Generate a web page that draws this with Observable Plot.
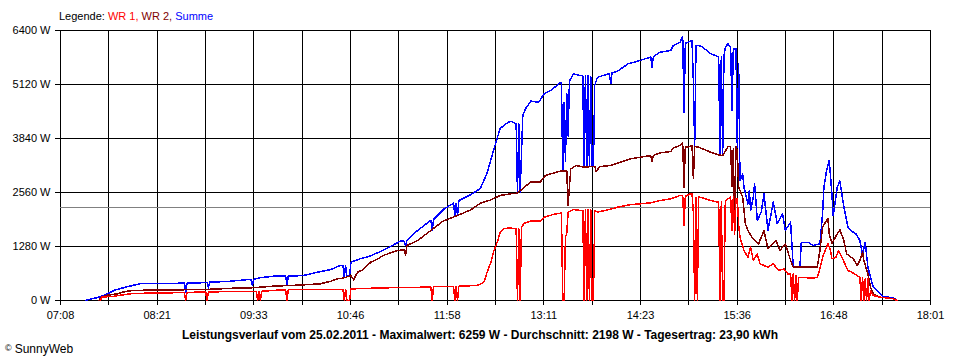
<!DOCTYPE html>
<html>
<head>
<meta charset="utf-8">
<script src="https://cdn.jsdelivr.net/npm/d3@7"></script>
<script src="https://cdn.jsdelivr.net/npm/@observablehq/plot@0.6"></script>
<style>
  html, body { margin: 0; padding: 0; background: #fff; }
  #wrap { position: relative; width: 960px; height: 360px; font-family: "Liberation Sans", Arial, sans-serif; color: #000; overflow: hidden; }
  #legend { position: absolute; left: 59px; top: 10px; font-size: 11px; line-height: 13px; white-space: nowrap; }
  #caption { position: absolute; left: 0; top: 329px; width: 960px; text-align: center; font-size: 12px; font-weight: bold; line-height: 13px; white-space: nowrap; }
  #copy { position: absolute; left: 5px; top: 342px; font-size: 12px; line-height: 13px; white-space: nowrap; }
  #copy .c { font-size: 9px; vertical-align: 2px; margin-right: 3px; }
  #chart { position: absolute; left: 0; top: 0; }
  #chart svg line, #chart svg path { shape-rendering: crispEdges; }
</style>
</head>
<body>
<div id="wrap">
  <div id="chart"></div>
  <div id="legend"></div>
  <div id="caption"></div>
  <div id="copy"></div>
</div>
<script>
// ---- data ----
const xStart = "07:08";
const xEnd = "18:01";
const xTickLabels = ["07:08","08:21","09:33","10:46","11:58","13:11","14:23","15:36","16:48","18:01"];
const yTicks = [0, 1280, 2560, 3840, 5120, 6400];
const yMax = 6400;
const average = 2198; // Durchschnitt
const seriesNames = ["WR 1", "WR 2", "Summe"];
const seriesColors = ["#ff0000", "#800000", "#0000ff"];
const captionText = "Leistungsverlauf vom 25.02.2011 - Maximalwert: 6259 W - Durchschnitt: 2198 W - Tagesertrag: 23,90 kWh";
const copySymbol = "©";
const copyText = "SunnyWeb";

const summe = [
 ["07:27",0],["07:29",20],["07:37",80],["07:44",170],["07:49",250],["07:55",300],["08:00",340],["08:08",400],["08:23",400],["08:38",410],["08:41",410],["08:42",200],["08:43",410],["08:53",420],["08:58",430],["08:59",300],["09:00",435],["09:13",450],["09:30",500],["09:31",500],["09:32",360],["09:33",500],["09:38",540],["09:48",575],["09:57",575],["09:58",355],["09:59",580],["10:10",590],["10:21",670],["10:31",735],["10:38",830],["10:40",830],["10:41",560],["10:42",830],["10:43",560],["10:45",600],["10:46",910],["10:53",990],["11:00",1050],["11:10",1185],["11:23",1405],["11:26",1405],["11:27",1300],["11:28",1420],["11:36",1660],["11:46",1900],["11:47",1660],["11:48",1920],["11:56",2175],["12:03",2305],["12:04",2015],["12:05",2305],["12:06",2015],["12:07",2370],["12:16",2510],["12:23",2650],["12:28",3000],["12:33",3555],["12:38",4080],["12:44",4225],["12:46",4250],["12:50",4190],["12:51",2570],["12:52",4190],["12:53",2570],["12:55",4385],["12:57",4545],["13:01",4725],["13:07",4700],["13:11",4900],["13:16",4980],["13:23",5160],["13:24",5160],["13:25",3080],["13:26",4700],["13:27",3300],["13:28",4900],["13:29",3900],["13:30",5200],["13:33",5370],["13:38",5330],["13:40",5330],["13:41",3175],["13:42",5330],["13:43",3175],["13:44",5330],["13:45",3175],["13:46",5300],["13:47",3175],["13:48",3200],["13:49",5100],["13:51",5290],["13:59",5370],["14:00",5370],["14:01",5140],["14:02",5400],["14:06",5435],["14:14",5610],["14:23",5690],["14:31",5770],["14:32",5530],["14:33",5780],["14:38",5885],["14:46",5925],["14:48",6045],["14:53",6120],["14:55",6259],["14:56",4465],["14:57",6100],["14:59",6120],["15:02",6160],["15:03",5215],["15:04",3635],["15:05",6045],["15:07",6045],["15:10",6005],["15:16",5850],["15:21",5785],["15:22",5785],["15:23",3435],["15:24",5785],["15:25",3435],["15:26",5800],["15:27",6000],["15:29",6085],["15:31",6000],["15:32",4500],["15:33",5965],["15:35",5965],["15:36",3635],["15:37",5610],["15:38",2845],["15:40",3000],["15:41",2685],["15:44",2290],["15:45",2610],["15:46",2135],["15:48",2450],["15:49",2765],["15:51",1900],["15:54",2095],["15:56",2530],["15:59",1660],["16:03",2330],["16:06",1820],["16:10",2055],["16:12",1660],["16:16",1855],["16:18",790],["16:23",790],["16:24",1380],["16:29",1380],["16:33",1305],["16:38",1345],["16:40",2055],["16:41",2685],["16:43",3080],["16:45",3320],["16:47",2530],["16:48",2015],["16:51",2685],["16:53",2830],["16:56",2210],["16:59",1740],["17:01",1660],["17:05",1580],["17:08",1420],["17:10",1100],["17:12",1380],["17:14",790],["17:16",550],["17:18",315],["17:21",235],["17:25",95],["17:33",65],["17:36",0]
];

const wr2 = [
 ["07:37",0],["07:38",55],["07:42",120],["07:51",160],["07:55",200],["07:58",220],["08:03",237],["08:23",253],["08:38",253],["09:03",268],["09:18",292],["09:31",300],["09:48",340],["10:10",370],["10:23",395],["10:31",458],["10:36",515],["10:40",530],["10:46",590],["10:48",490],["10:50",620],["10:51",670],["10:55",730],["11:01",910],["11:06",980],["11:10",1065],["11:21",1185],["11:26",1200],["11:27",1065],["11:28",1305],["11:36",1420],["11:46",1660],["11:55",1880],["12:06",2015],["12:16",2150],["12:23",2305],["12:31",2385],["12:38",2490],["12:46",2530],["12:51",2545],["12:56",2685],["13:01",2805],["13:08",2805],["13:12",2965],["13:18",3020],["13:23",3065],["13:28",3065],["13:29",2250],["13:30",2700],["13:31",3120],["13:35",3200],["13:41",3160],["13:46",3175],["13:49",3175],["13:50",3065],["13:53",3175],["14:01",3200],["14:06",3255],["14:16",3360],["14:23",3395],["14:31",3435],["14:32",3300],["14:33",3440],["14:38",3500],["14:46",3530],["14:48",3615],["14:53",3675],["14:55",3730],["14:56",2685],["14:57",3650],["14:59",3635],["15:02",3675],["15:03",2885],["15:04",3650],["15:07",3635],["15:10",3595],["15:16",3515],["15:21",3460],["15:25",3435],["15:29",3650],["15:31",3650],["15:32",2700],["15:33",3600],["15:34",1700],["15:35",3640],["15:36",3555],["15:37",2685],["15:40",2450],["15:42",1820],["15:44",1660],["15:47",1500],["15:52",1345],["15:56",1660],["15:59",1225],["16:05",1420],["16:08",1185],["16:12",1345],["16:16",950],["16:18",790],["16:36",790],["16:38",1185],["16:40",1740],["16:43",1900],["16:44",1935],["16:45",1580],["16:47",1345],["16:51",1580],["16:53",1675],["16:56",1420],["16:58",1105],["17:03",990],["17:06",830],["17:08",950],["17:10",1145],["17:11",950],["17:14",630],["17:16",315],["17:18",160],["17:23",80],["17:34",40],["17:36",0]
];

const wr1 = [
 ["07:38",0],["07:39",80],["07:48",100],["07:55",135],["08:01",160],["08:13",175],["08:28",180],["08:41",190],["08:42",0],["08:43",190],["08:53",200],["08:57",200],["08:58",0],["08:59",200],["09:13",213],["09:35",213],["09:36",0],["09:37",213],["09:38",0],["09:39",220],["09:48",237],["09:53",253],["09:57",253],["09:58",0],["09:59",255],["10:10",255],["10:36",265],["10:40",265],["10:41",0],["10:42",265],["10:43",0],["10:45",0],["10:46",277],["10:48",277],["11:11",300],["11:40",315],["11:46",315],["11:47",0],["11:48",330],["12:03",330],["12:04",0],["12:05",330],["12:06",0],["12:07",340],["12:16",350],["12:20",355],["12:23",380],["12:26",450],["12:28",650],["12:31",900],["12:33",1150],["12:36",1400],["12:38",1610],["12:41",1700],["12:45",1720],["12:50",1700],["12:51",0],["12:52",1700],["12:53",0],["12:54",1740],["12:56",1830],["13:01",1880],["13:08",1880],["13:11",1975],["13:18",2040],["13:23",2070],["13:24",2070],["13:25",0],["13:26",0],["13:27",1500],["13:28",1600],["13:29",2095],["13:33",2155],["13:38",2135],["13:40",2135],["13:41",0],["13:42",2150],["13:43",0],["13:44",2150],["13:45",0],["13:46",2150],["13:47",0],["13:48",0],["13:49",2140],["13:51",2095],["13:59",2150],["14:06",2210],["14:16",2275],["14:23",2290],["14:31",2315],["14:38",2370],["14:46",2410],["14:53",2490],["14:55",2490],["14:56",1780],["14:57",2470],["15:01",2530],["15:02",2530],["15:03",2095],["15:04",0],["15:05",2450],["15:06",0],["15:07",2450],["15:08",2450],["15:16",2370],["15:22",2330],["15:23",0],["15:24",2330],["15:25",0],["15:26",0],["15:27",2350],["15:29",2410],["15:31",2450],["15:32",1660],["15:33",2450],["15:34",1580],["15:35",2410],["15:36",2410],["15:37",1800],["15:38",1500],["15:41",1185],["15:44",1025],["15:46",1265],["15:48",950],["15:51",1105],["15:53",870],["15:59",790],["16:03",870],["16:07",710],["16:11",750],["16:14",630],["16:16",630],["16:17",0],["16:18",630],["16:19",0],["16:20",600],["16:21",0],["16:22",550],["16:23",550],["16:33",530],["16:36",550],["16:38",750],["16:40",1025],["16:44",1345],["16:46",1185],["16:47",990],["16:50",1025],["16:52",1185],["16:55",990],["16:59",710],["17:02",670],["17:06",590],["17:08",550],["17:09",0],["17:10",550],["17:11",0],["17:12",515],["17:13",0],["17:14",515],["17:15",0],["17:16",237],["17:18",120],["17:23",80],["17:33",40],["17:36",0]
];

// ---- helpers ----
const toMin = s => { const [h, m] = s.split(":").map(Number); return h * 60 + m; };
const rows = arr => arr.map(([t, w]) => ({ t: toMin(t), w }));

const x0 = toMin(xStart), x1 = toMin(xEnd);
const nGrid = (xTickLabels.length - 1) * 2;
const step = (x1 - x0) / nGrid;
const gridTimes = d3.range(nGrid + 1).map(i => x0 + i * step);
const fmtX = d => {
  const i = Math.round((d - x0) / step);
  return i % 2 === 0 ? xTickLabels[i / 2] : "";
};

const chart = Plot.plot({
  width: 960,
  height: 360,
  marginLeft: 60,
  marginRight: 30,
  marginTop: 30,
  marginBottom: 60,
  style: { fontFamily: "'Liberation Sans', Arial, sans-serif", fontSize: "11px", background: "#fff", color: "#000", overflow: "visible" },
  x: { domain: [x0, x1], ticks: gridTimes, tickFormat: fmtX, tickSize: 5, tickPadding: 6, label: null },
  y: { domain: [0, yMax], ticks: yTicks, tickFormat: d => d + " W", tickSize: 5, tickPadding: 5, label: null },
  marks: [
    Plot.ruleX(gridTimes, { stroke: "#000" }),
    Plot.ruleY(yTicks, { stroke: "#000" }),
    Plot.ruleY([average], { stroke: "#808080" }),
    Plot.line(rows(summe), { x: "t", y: "w", stroke: seriesColors[2] }),
    Plot.line(rows(wr2), { x: "t", y: "w", stroke: seriesColors[1] }),
    Plot.line(rows(wr1), { x: "t", y: "w", stroke: seriesColors[0] })
  ]
});
document.getElementById("chart").appendChild(chart);

// legend
const legend = document.getElementById("legend");
legend.innerHTML = "Legende: " + seriesNames.map((n, i) =>
  `<span style="color:${seriesColors[i]}">${n}${i < seriesNames.length - 1 ? ", " : ""}</span>`).join("");
document.getElementById("caption").textContent = captionText;
document.getElementById("copy").innerHTML = `<span class="c">${copySymbol}</span>${copyText}`;
</script>
</body>
</html>
